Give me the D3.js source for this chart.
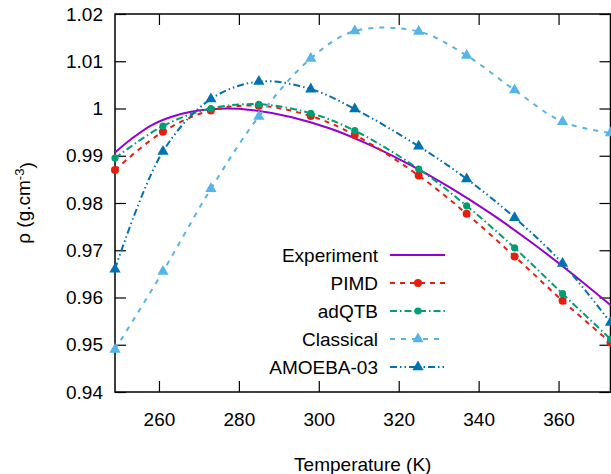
<!DOCTYPE html>
<html>
<head>
<meta charset="utf-8">
<script src="https://cdn.jsdelivr.net/npm/d3@7"></script>
<style>
  body { margin: 0; background: #fff; }
  svg { display: block; font-family: "Liberation Sans", Arial, sans-serif; }
</style>
</head>
<body>
<svg></svg>
<script>
// simulation temperatures (K)
const temps = [249, 261, 273, 285, 298, 309, 325, 337, 349, 361, 373];
const pimd      = [0.9870, 0.9951, 0.9996, 1.0006, 0.9984, 0.9944, 0.9858, 0.9777, 0.9687, 0.9593, 0.9505];
const adqtb     = [0.9895, 0.9963, 1.0000, 1.0009, 0.9990, 0.9953, 0.9872, 0.9794, 0.9705, 0.9608, 0.9512];
const classical = [0.9490, 0.9655, 0.9830, 0.9983, 1.0106, 1.0164, 1.0163, 1.0112, 1.0039, 0.9972, 0.9948];
const amoeba    = [0.9660, 0.9909, 1.0020, 1.0057, 1.0041, 0.9999, 0.9920, 0.9851, 0.9769, 0.9672, 0.9547];

// experimental density of water
const exptT   = [249, 253, 258, 263, 268, 273, 277, 283, 293, 303, 313, 323, 333, 343, 353, 363, 373];
const exptRho = [0.9907, 0.9935, 0.9964, 0.9982, 0.9993, 0.9998, 1.0000, 0.9997, 0.9982, 0.9957, 0.9922, 0.9880, 0.9832, 0.9778, 0.9718, 0.9653, 0.9584];

const xTicks = [260, 280, 300, 320, 340, 360];
const yTicks = [0.94, 0.95, 0.96, 0.97, 0.98, 0.99, 1, 1.01, 1.02];

const width = 611, height = 474;
const margin = {top: 14, left: 115, bottom: 82, right: 0.5};

const svg = d3.select("svg").attr("width", width).attr("height", height);

const x = d3.scaleLinear().domain([249, 373]).range([margin.left, width - margin.right]);
const y = d3.scaleLinear().domain([0.94, 1.02]).range([height - margin.bottom, margin.top]);

const fmtY = d => d === 1 ? "1" : d3.format(".2f")(d);
const tick = 11;

// axes (ticks point inward, mirrored on top/right)
const gL = svg.append("g").attr("transform", `translate(${margin.left},0)`)
  .call(d3.axisLeft(y).tickValues(yTicks).tickSize(-tick).tickPadding(12).tickFormat(fmtY));
const gB = svg.append("g").attr("transform", `translate(0,${height - margin.bottom})`)
  .call(d3.axisBottom(x).tickValues(xTicks).tickSize(-tick).tickPadding(21));
const gT = svg.append("g").attr("transform", `translate(0,${margin.top})`)
  .call(d3.axisTop(x).tickValues(xTicks).tickSize(-tick).tickFormat(""));
const gR = svg.append("g").attr("transform", `translate(${width - margin.right},0)`)
  .call(d3.axisRight(y).tickValues(yTicks).tickSize(-tick).tickFormat(""));

[gL, gB, gT, gR].forEach(g => {
  g.select(".domain").remove();
  g.selectAll("line").attr("stroke", "#000").attr("stroke-width", 1.2);
  g.selectAll("text").attr("fill", "#000").style("font-size", "19px");
});

svg.append("rect")
  .attr("x", margin.left).attr("y", margin.top)
  .attr("width", width - margin.right - margin.left)
  .attr("height", height - margin.bottom - margin.top)
  .attr("fill", "none").attr("stroke", "#000").attr("stroke-width", 1.5);

const series = [
  {name: "Experiment", t: exptT, v: exptRho, color: "#9400d3", dash: null, marker: null},
  {name: "PIMD", t: temps, v: pimd, color: "#e51e10", dash: "5,5", marker: "circle", size: 4},
  {name: "adQTB", t: temps, v: adqtb, color: "#009e73", dash: "7,3,1.5,3", marker: "circle", size: 3.6},
  {name: "Classical", t: temps, v: classical, color: "#56b4e9", dash: "5,6", marker: "triangle", size: 55},
  {name: "AMOEBA-03", t: temps, v: amoeba, color: "#0072b2", dash: "7,3,1.5,3,1.5,3", marker: "triangle", size: 55}
];

const line = d3.line().x(d => x(d[0])).y(d => y(d[1])).curve(d3.curveCatmullRom.alpha(0.5));

function drawMarker(g, s, cx, cy) {
  if (s.marker === "circle") {
    g.append("circle").attr("cx", cx).attr("cy", cy).attr("r", s.size).attr("fill", s.color);
  } else if (s.marker === "triangle") {
    g.append("path").attr("d", d3.symbol(d3.symbolTriangle, s.size)())
      .attr("transform", `translate(${cx},${cy})`).attr("fill", s.color);
  }
}

series.forEach(s => {
  const pts = s.t.map((t, i) => [t, s.v[i]]);
  const g = svg.append("g");
  g.append("path").datum(pts).attr("d", line)
    .attr("fill", "none").attr("stroke", s.color).attr("stroke-width", 2)
    .attr("stroke-dasharray", s.dash);
  if (s.marker) pts.forEach(p => drawMarker(g, s, x(p[0]), y(p[1])));
});

// legend
const legend = svg.append("g");
series.forEach((s, i) => {
  const ly = 255 + i * 28;
  legend.append("text").attr("x", 378).attr("y", ly).attr("dy", "0.35em")
    .attr("text-anchor", "end").style("font-size", "19px").text(s.name);
  legend.append("line").attr("x1", 390).attr("x2", 445).attr("y1", ly).attr("y2", ly)
    .attr("stroke", s.color).attr("stroke-width", 2).attr("stroke-dasharray", s.dash);
  if (s.marker) drawMarker(legend, s, 418, ly);
});

// axis titles
svg.append("text").attr("x", (margin.left + width - margin.right) / 2).attr("y", 471)
  .attr("text-anchor", "middle").style("font-size", "19px").text("Temperature (K)");

const yl = svg.append("text")
  .attr("transform", `translate(30,${(margin.top + height - margin.bottom) / 2}) rotate(-90)`)
  .attr("text-anchor", "middle").style("font-size", "19px");
yl.append("tspan").text("ρ (g.cm");
yl.append("tspan").attr("dy", "-0.45em").style("font-size", "13px").text("-3");
yl.append("tspan").attr("dy", "0.45em").text(")");
</script>
</body>
</html>
